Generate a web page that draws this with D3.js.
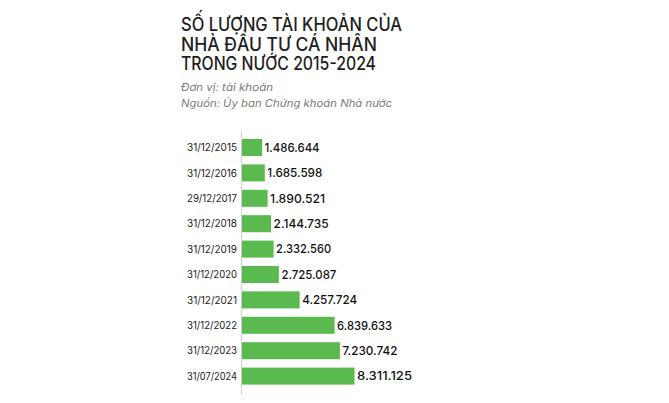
<!DOCTYPE html>
<html>
<head>
<meta charset="utf-8">
<script src="https://cdn.jsdelivr.net/npm/d3@7"></script>
<style>
html,body{margin:0;padding:0;background:#fff;}
svg{display:block;}
</style>
</head>
<body>
<svg id="chart" width="669" height="403"></svg>
<script>
const titleLines = ["SỐ LƯỢNG TÀI KHOẢN CỦA", "NHÀ ĐẦU TƯ CÁ NHÂN", "TRONG NƯỚC 2015-2024"];
const subtitleLines = ["Đơn vị: tài khoản", "Nguồn: Ủy ban Chứng khoán Nhà nước"];
const categories = ["31/12/2015","31/12/2016","29/12/2017","31/12/2018","31/12/2019","31/12/2020","31/12/2021","31/12/2022","31/12/2023","31/07/2024"];
const values = [1486644,1685598,1890521,2144735,2332560,2725087,4257724,6839633,7230742,8311125];

const fmt = v => d3.format(",")(v).replace(/,/g, ".");
const svg = d3.select("#chart");
const FONT = "Inter, 'Noto Sans', sans-serif";

// Title: one text block with three lines
const tWidths = [221, 196, 195];
const title = svg.append("text")
  .attr("font-family", FONT).attr("font-weight", 500)
  .attr("font-size", 18).attr("fill", "#1e1e1e");
titleLines.forEach((t, i) => {
  title.append("tspan")
    .attr("x", 181).attr("y", 31 + i * 19.6)
    .attr("textLength", tWidths[i]).attr("lengthAdjust", "spacingAndGlyphs")
    .text(t);
});

const sWidths = [92, 211];
const sub = svg.append("text")
  .attr("font-family", FONT).attr("font-style", "italic")
  .attr("font-size", 10.5).attr("fill", "#7a7a7a");
subtitleLines.forEach((t, i) => {
  sub.append("tspan")
    .attr("x", 181).attr("y", 91 + i * 15.5)
    .attr("textLength", sWidths[i]).attr("lengthAdjust", "spacingAndGlyphs")
    .text(t);
});

const x = d3.scaleLinear().domain([0, d3.max(values)]).range([242, 354.5]);
const y = d3.scaleBand().domain(categories).range([134.8, 388.8]).paddingInner(0.33).paddingOuter(0.165);

// axis line
svg.append("line").attr("x1", 241.5).attr("x2", 241.5).attr("y1", 131).attr("y2", 394)
  .attr("stroke", "#cfcfcf").attr("stroke-width", 1);

const data = categories.map((c, i) => ({c, v: values[i]}));

svg.selectAll("rect.bar").data(data).enter().append("rect")
  .attr("class", "bar")
  .attr("x", x(0)).attr("y", d => y(d.c))
  .attr("width", d => x(d.v) - x(0)).attr("height", y.bandwidth())
  .attr("fill", "#5bba4f");

svg.selectAll("text.cat").data(data).enter().append("text")
  .attr("class", "cat")
  .attr("x", 237).attr("y", d => y(d.c) + y.bandwidth() / 2)
  .attr("dy", "0.35em").attr("text-anchor", "end")
  .attr("font-family", FONT).attr("font-size", 10.5).attr("fill", "#222")
  .attr("textLength", 50).attr("lengthAdjust", "spacingAndGlyphs")
  .text(d => d.c);

svg.selectAll("text.val").data(data).enter().append("text")
  .attr("class", "val")
  .attr("x", d => x(d.v) + 2.5).attr("y", d => y(d.c) + y.bandwidth() / 2)
  .attr("dy", "0.36em")
  .attr("font-family", FONT).attr("font-weight", 500).attr("font-size", 12).attr("fill", "#111")
  .attr("textLength", 55).attr("lengthAdjust", "spacingAndGlyphs")
  .text(d => fmt(d.v));
</script>
</body>
</html>
